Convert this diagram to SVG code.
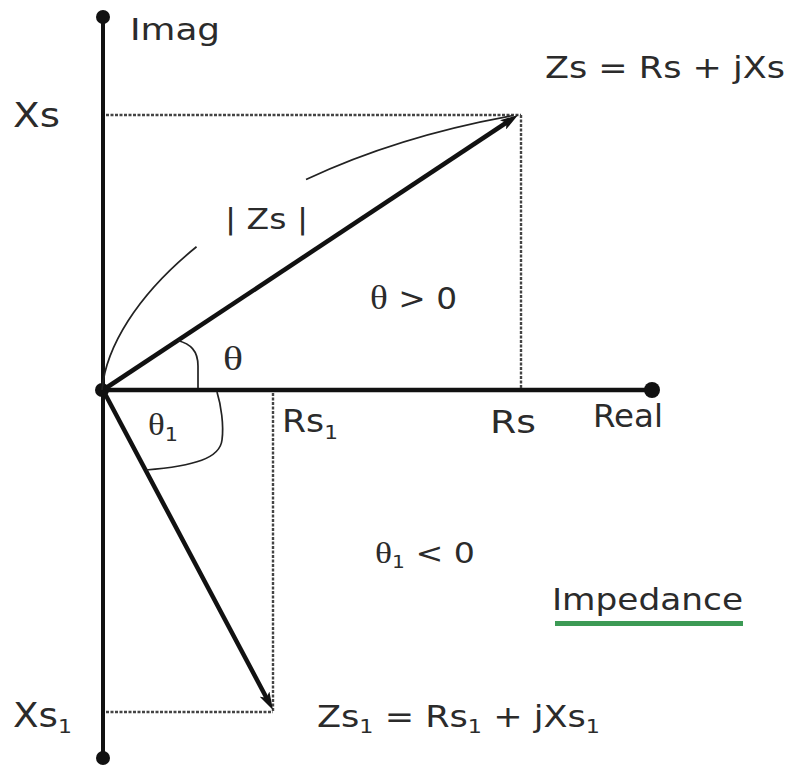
<svg xmlns="http://www.w3.org/2000/svg" width="788" height="772" viewBox="0 0 788 772">
<style>
.ax{stroke:#111;stroke-width:4;fill:none}
.vec{stroke:#111;stroke-width:4.5;fill:none}
.dot{fill:#111}
.dotted{stroke:#444;stroke-width:2.4;stroke-dasharray:3 1.5;fill:none}
.thin{stroke:#222;stroke-width:1.7;fill:none}
.t{font-family:"DejaVu Sans",Verdana,sans-serif;fill:#2b2b2b}
.g{font-family:"Liberation Serif","DejaVu Serif",serif}
</style>
<defs>
<marker id="ah" viewBox="0 0 18 11" refX="8" refY="5.5" markerWidth="18" markerHeight="11" markerUnits="userSpaceOnUse" orient="auto">
<path d="M0,0 L18,5.5 L0,11 L4,5.5 z" fill="#111"/>
</marker>
</defs>
<rect width="788" height="772" fill="#fff"/>
<g id="axes">
<line class="ax" x1="103" y1="17" x2="103" y2="758"/>
<line class="ax" x1="103" y1="390" x2="652" y2="390" style="stroke-width:4.5"/>
<circle class="dot" cx="103" cy="17" r="7"/>
<circle class="dot" cx="103" cy="758" r="7"/>
<circle class="dot" cx="652" cy="390" r="8"/>
<circle class="dot" cx="102" cy="390" r="7"/>
</g>
<g id="connectors">
<line class="dotted" x1="106" y1="115" x2="521" y2="115"/>
<line class="dotted" x1="521" y1="115" x2="521" y2="388"/>
<line class="dotted" x1="273" y1="393" x2="273" y2="712"/>
<line class="dotted" x1="106" y1="712" x2="273" y2="712"/>
<line class="vec" x1="103" y1="390" x2="509.7" y2="120.5" marker-end="url(#ah)"/>
<line class="vec" x1="103" y1="390" x2="268.3" y2="701.2" marker-end="url(#ah)"/>
<path class="thin" d="M102,390 C105.76,347.7 136.47,295.46 196.52,246.78"/>
<path class="thin" d="M306.03,179.44 C363.05,152.65 432.5,130 513,115.5"/>
<path class="thin" d="M178,340.5 C190,344 198,350 198,366 L198,388"/>
<path class="thin" d="M217,392 C221,405 224,425 222,440 C220,458 195,466 146,470"/>
</g>
<g id="labels">
<text class="t" x="130" y="40" font-size="30" textLength="90" lengthAdjust="spacingAndGlyphs">Imag</text>
<text class="t" x="13" y="127" font-size="34" textLength="47" lengthAdjust="spacingAndGlyphs">Xs</text>
<text class="t" x="545" y="78" font-size="31" textLength="240" lengthAdjust="spacingAndGlyphs">Zs = Rs + jXs</text>
<text class="t" x="225" y="229" font-size="28" textLength="83" lengthAdjust="spacingAndGlyphs">| Zs |</text>
<text class="t" x="370" y="309" font-size="30" textLength="87" lengthAdjust="spacingAndGlyphs"><tspan class="g" font-size="34">θ</tspan> &gt; 0</text>
<text class="t g" x="223" y="370" font-size="34" textLength="20" lengthAdjust="spacingAndGlyphs">θ</text>
<text class="t" x="148" y="435" font-size="30" textLength="30" lengthAdjust="spacingAndGlyphs"><tspan class="g" font-size="32">θ</tspan><tspan font-size="19" dy="6">1</tspan></text>
<text class="t" x="282" y="432" font-size="32" textLength="56" lengthAdjust="spacingAndGlyphs">Rs<tspan font-size="20" dy="7">1</tspan></text>
<text class="t" x="490" y="433" font-size="32" textLength="46" lengthAdjust="spacingAndGlyphs">Rs</text>
<text class="t" x="593" y="427" font-size="32" textLength="70" lengthAdjust="spacingAndGlyphs">Real</text>
<text class="t" x="375" y="563" font-size="28" textLength="100" lengthAdjust="spacingAndGlyphs"><tspan class="g" font-size="30">θ</tspan><tspan font-size="17" dy="5">1</tspan><tspan dy="-5"> &lt; 0</tspan></text>
<text class="t" x="552" y="610" font-size="31" textLength="191" lengthAdjust="spacingAndGlyphs">Impedance</text>
<rect x="555" y="621" width="188" height="5" fill="#3c9a55"/>
<text class="t" x="13" y="727" font-size="34" textLength="59" lengthAdjust="spacingAndGlyphs">Xs<tspan font-size="20" dy="6">1</tspan></text>
<text class="t" x="317" y="727" font-size="30" textLength="283" lengthAdjust="spacingAndGlyphs">Zs<tspan font-size="19" dy="6">1</tspan><tspan dy="-6"> = Rs</tspan><tspan font-size="19" dy="6">1</tspan><tspan dy="-6"> + jXs</tspan><tspan font-size="19" dy="6">1</tspan></text>
</g>
</svg>
